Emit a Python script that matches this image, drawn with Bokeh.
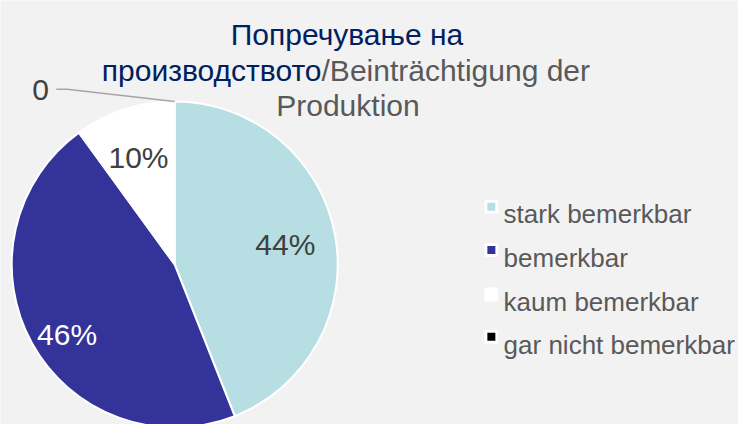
import math
from bokeh.plotting import figure
from bokeh.models import Range1d, ColumnDataSource
from bokeh.core.properties import value
from bokeh.embed import file_html
from bokeh.resources import INLINE

# ---- data ----
categories = ["stark bemerkbar", "bemerkbar", "kaum bemerkbar", "gar nicht bemerkbar"]
values = [44, 46, 10, 0]
labels = ["44%", "46%", "10%", "0"]
colors = ["#b7dfe3", "#333399", "#ffffff", "#000000"]
title_line1 = "Попречување на"
title_line2a = "производството"
title_line2b = "/Beinträchtigung der"
title_line3 = "Produktion"

# ---- layout: reference is 754x440, figure is 738x424 ----
W, H = 738, 424
SX, SY = W / 754.0, H / 440.0
FONT = "Liberation Sans"
BG = "#f2f2f2"


def X(px):
    return px * SX


def Y(py):
    return H - py * SY


cx, cy = X(178), Y(274)
R = 163

p = figure(width=W, height=H, output_backend="svg", toolbar_location=None,
           x_range=Range1d(0, W), y_range=Range1d(0, H),
           x_axis_type=None, y_axis_type=None, min_border=0)
p.grid.visible = False
p.outline_line_color = None
p.background_fill_color = BG
p.border_fill_color = BG

# pie wedges (clockwise from 12 o'clock)
total = float(sum(values))
starts, ends, cols = [], [], []
mids = []
cum = 0.0
for v, c in zip(values, colors):
    a0 = math.pi / 2 - 2 * math.pi * cum / total
    cum += v
    a1 = math.pi / 2 - 2 * math.pi * cum / total
    mids.append((a0 + a1) / 2)
    if v > 0:
        starts.append(a0)
        ends.append(a1)
        cols.append(c)
src = ColumnDataSource(dict(x=[cx] * len(starts), y=[cy] * len(starts),
                            start=starts, end=ends, color=cols))
p.wedge(x="x", y="y", radius=R, start_angle="start", end_angle="end",
        direction="clock", fill_color="color", line_color="white", line_width=2,
        source=src)

# data labels (best-fit placement as in the original)
label_pos = [(291, 253), (68, 347), (141, 163), (41, 93)]
label_cols = ["#404040", "#ffffff", "#404040", "#404040"]
p.text(x=[X(lp[0]) for lp in label_pos], y=[Y(lp[1]) for lp in label_pos], text=labels,
       text_color=label_cols, text_font=value(FONT), text_font_size="30px",
       text_align="center", text_baseline="alphabetic")

# leader line for the zero slice
zero_angle = mids[3]
ex = cx + R * math.cos(zero_angle)
ey = cy + R * math.sin(zero_angle)
p.line(x=[X(57), X(68), ex], y=[Y(92), Y(92), ey], line_color="#a6a6a6", line_width=1.5)

# title
p.text(x=[X(354)], y=[Y(35)], text=[title_line1], text_color="#002060",
       text_font=value(FONT), text_font_size="30px", text_align="center",
       text_baseline="alphabetic")
p.text(x=[X(328)], y=[Y(73)], text=[title_line2a], text_color="#002060",
       text_font=value(FONT), text_font_size="30px", text_align="right",
       text_baseline="alphabetic")
p.text(x=[X(328)], y=[Y(73)], text=[title_line2b], text_color="#595959",
       text_font=value(FONT), text_font_size="30px", text_align="left",
       text_baseline="alphabetic")
p.text(x=[X(355)], y=[Y(109)], text=[title_line3], text_color="#595959",
       text_font=value(FONT), text_font_size="30px", text_align="center",
       text_baseline="alphabetic")

# legend
leg_base = [222, 267, 313, 357]
p.rect(x=[X(501.5)] * 4, y=[Y(b - 8) for b in leg_base], width=11, height=11,
       fill_color=colors, line_color="white", line_width=3)
p.text(x=[X(514)] * 4, y=[Y(b) for b in leg_base], text=categories,
       text_color="#595959", text_font=value(FONT), text_font_size="26px",
       text_align="left", text_baseline="alphabetic")

html = file_html(p, INLINE)
html = html.replace("<body>", '<body style="background-color:#f2f2f2">', 1)
open("out.html", "w").write(html)
